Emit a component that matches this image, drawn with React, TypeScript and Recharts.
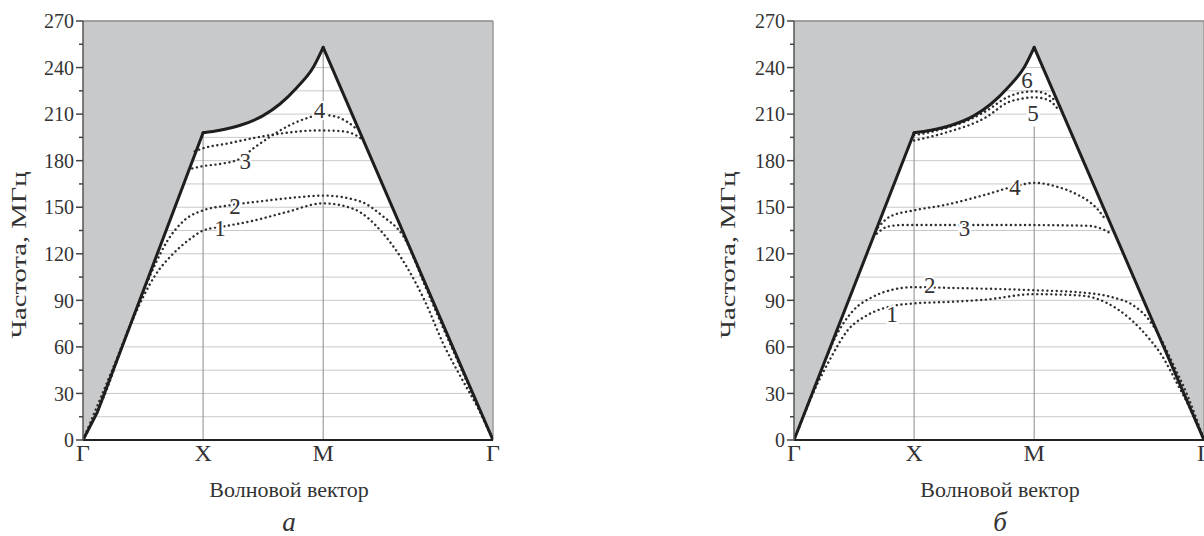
import React from 'react';
import {
  ComposedChart,
  Line,
  Area,
  XAxis,
  YAxis,
  CartesianGrid,
  ReferenceLine,
  ReferenceDot,
} from 'recharts';

type P = [number, number];

const FONT = '"Liberation Serif", "Times New Roman", serif';
const INK = '#333333';
const GRAY_FILL = '#c8c9cb';

// x positions of the symmetry points Γ, X, M, Γ
const xTickValues = [0, 1, 2, 3.414];
const xTickNames = ['Γ', 'X', 'M', 'Γ'];
const yTickValues = [0, 15, 30, 45, 60, 75, 90, 105, 120, 135, 150, 165, 180, 195, 210, 225, 240, 255, 270];
const Y_MAX = 270;

// boundary (thick line): Γ→X, X→M (curved), M→Γ
const boundaryA_GX: P[] = [[0, 0], [0.12, 18], [1, 198]];
const boundaryB_GX: P[] = [[0, 0], [1, 198]];
const boundaryXM: P[] = [
  [1, 198], [1.14, 199.6], [1.31, 202.8], [1.5, 209], [1.64, 216.5], [1.78, 227], [1.92, 240.5], [2, 253],
];
const boundaryMG: P[] = [[2, 253], [3.414, 0]];

// dotted branches, panel а
const a1: P[] = [
  [0, 0], [0.2, 33], [0.3, 55], [0.4, 75], [0.5, 92], [0.6, 106], [0.75, 120], [0.9, 130],
  [1.0, 135], [1.2, 138], [1.4, 141], [1.7, 147], [2.0, 152.5], [2.25, 149], [2.5, 133],
  [2.7, 111], [2.85, 89], [3.0, 62], [3.15, 40], [3.3, 19], [3.414, 0],
];
const a2: P[] = [
  [0, 0], [0.3, 56], [0.5, 95], [0.6, 113], [0.7, 128], [0.85, 142], [1.0, 148], [1.2, 151],
  [1.5, 154], [1.8, 156.5], [2.0, 157.5], [2.3, 154], [2.5, 144], [2.67, 131], [2.85, 99],
  [3.0, 72], [3.2, 37], [3.414, 0],
];
const a3: P[] = [
  [0.91, 175], [1.0, 176.5], [1.15, 178], [1.3, 181], [1.42, 188], [1.55, 195], [1.7, 202],
  [1.85, 207], [1.98, 209.5], [2.1, 208.5], [2.2, 205], [2.27, 201],
];
const a4: P[] = [
  [0.93, 186], [1.0, 188], [1.2, 191], [1.45, 195], [1.7, 198], [1.95, 199.5], [2.15, 199],
  [2.27, 196.5], [2.32, 194],
];

// dotted branches, panel б
const b1: P[] = [
  [0, 0], [0.2, 37], [0.3, 52], [0.45, 71], [0.6, 80], [0.8, 86], [1.0, 88], [1.3, 89],
  [1.6, 90.5], [2.0, 94], [2.4, 93], [2.6, 88.5], [2.8, 78], [2.95, 66], [3.05, 56],
  [3.2, 35], [3.3, 20], [3.414, 0],
];
const b2: P[] = [
  [0, 0], [0.2, 39], [0.35, 67], [0.5, 84], [0.65, 92], [0.8, 96.5], [1.0, 98.5], [1.3, 98],
  [1.6, 97.5], [2.0, 96.5], [2.4, 95], [2.65, 92], [2.82, 87], [2.95, 78], [3.05, 66],
  [3.15, 50], [3.28, 28], [3.414, 0],
];
const b3: P[] = [
  [0.69, 133], [0.78, 137.5], [0.9, 138.5], [1.5, 138.5], [2.0, 138.5], [2.45, 138],
  [2.58, 135.5], [2.64, 133],
];
const b4: P[] = [
  [0.7, 137], [0.8, 144], [1.0, 148], [1.26, 151.5], [1.59, 158], [1.84, 163.5], [2.0, 165.7],
  [2.2, 163], [2.35, 158.5], [2.46, 153.5], [2.53, 148.5], [2.59, 142.5],
];
const b5: P[] = [
  [1.0, 193], [1.26, 198], [1.6, 208], [1.78, 217.5], [1.9, 220], [2.0, 220.8], [2.12, 219],
  [2.2, 213],
];
const b6: P[] = [
  [1.0, 196.5], [1.1, 197.8], [1.26, 201], [1.45, 206], [1.6, 212], [1.78, 221], [1.9, 224],
  [2.0, 224.6], [2.1, 223], [2.17, 219],
];

type Lbl = { t: string; x: number; y: number };
const labelsA: Lbl[] = [
  { t: '1', x: 1.14, y: 136.5 },
  { t: '2', x: 1.265, y: 151 },
  { t: '3', x: 1.35, y: 180 },
  { t: '4', x: 1.97, y: 212.5 },
];
const labelsB: Lbl[] = [
  { t: '1', x: 0.815, y: 81.3 },
  { t: '2', x: 1.13, y: 99.6 },
  { t: '3', x: 1.42, y: 136.4 },
  { t: '4', x: 1.84, y: 163 },
  { t: '5', x: 1.99, y: 211 },
  { t: '6', x: 1.94, y: 232 },
];

const toObj = (arr: P[]) => arr.map(([x, y]) => ({ x, y }));
const toRange = (arr: P[]) => arr.map(([x, y]) => ({ x, r: [y, Y_MAX] }));

const YTick = (props: any) => {
  const { x, y, payload } = props;
  const v = payload.value as number;
  const major = v % 30 === 0;
  return (
    <g>
      <line x1={x - (major ? 7 : 4)} x2={x} y1={y} y2={y} stroke="#444" strokeWidth={1.5} />
      {major && (
        <text x={x - 9} y={y} dy="0.36em" textAnchor="end" fontFamily={FONT} fontSize={20} fill={INK}>
          {v}
        </text>
      )}
    </g>
  );
};

const LabelShape = (t: string) => (props: any) => {
  const { cx, cy } = props;
  return (
    <text
      x={cx}
      y={cy}
      dy="0.35em"
      textAnchor="middle"
      fontFamily={FONT}
      fontSize={23}
      fill={INK}
      stroke="#ffffff"
      strokeWidth={4}
      style={{ paintOrder: 'stroke' }}
    >
      {t}
    </text>
  );
};

type PanelProps = {
  width: number;
  marginRight: number;
  gx: P[];
  curves: P[][];
  labels: Lbl[];
  mTop: number;
};

const Panel = ({ width, marginRight, gx, curves, labels, mTop }: PanelProps) => {
  const segs: { d: P[]; t: 'linear' | 'monotone' }[] = [
    { d: gx, t: 'linear' },
    { d: boundaryXM, t: 'monotone' },
    { d: boundaryMG, t: 'linear' },
  ];
  // one outline for the grey region above the boundary
  const fullBoundary: P[] = [...gx, ...boundaryXM.slice(1), ...boundaryMG.slice(1)];
  return (
    <ComposedChart width={width} height={536} margin={{ top: 21, right: marginRight, bottom: 0, left: 0 }}>
      <CartesianGrid horizontal vertical={false} stroke="#c9c9c9" strokeWidth={1} fill="#ffffff" />
      <XAxis
        type="number"
        dataKey="x"
        domain={[0, 3.414]}
        ticks={xTickValues}
        interval={0}
        allowDataOverflow
        height={96}
        tickLine={false}
        tickSize={0}
        tickMargin={4}
        axisLine={{ stroke: '#222', strokeWidth: 2.2 }}
        tickFormatter={(v: number) => xTickNames[xTickValues.indexOf(v)] ?? ''}
        tick={{ fontFamily: FONT, fontSize: 24, fill: INK }}
      />
      <YAxis
        type="number"
        domain={[0, Y_MAX]}
        ticks={yTickValues}
        interval={0}
        allowDataOverflow
        width={83}
        tickLine={false}
        tickSize={0}
        tickMargin={0}
        axisLine={{ stroke: '#555', strokeWidth: 1.5 }}
        tick={YTick}
      />
      <Area
        data={toRange(fullBoundary)}
        dataKey="r"
        type="linear"
        stroke="none"
        fill={GRAY_FILL}
        fillOpacity={1}
        isAnimationActive={false}
        activeDot={false}
        dot={false}
      />
      <ReferenceLine segment={[{ x: 1, y: 0 }, { x: 1, y: 198 }]} stroke="#8c8c8c" strokeWidth={1} />
      <ReferenceLine segment={[{ x: 2, y: 0 }, { x: 2, y: mTop }]} stroke="#8c8c8c" strokeWidth={1} />
      <ReferenceLine y={Y_MAX} stroke="#8e8e8e" strokeWidth={1.5} />
      <ReferenceLine x={3.414} stroke="#9a9a9a" strokeWidth={1.5} />
      {curves.map((c, i) => (
        <Line
          key={i}
          data={toObj(c)}
          dataKey="y"
          type="monotone"
          stroke="#2e2e2e"
          strokeWidth={2.4}
          strokeDasharray="0.1 4.6"
          strokeLinecap="round"
          dot={false}
          activeDot={false}
          isAnimationActive={false}
        />
      ))}
      {segs.map((s, i) => (
        <Line
          key={'bd' + i}
          data={toObj(s.d)}
          dataKey="y"
          type={s.t}
          stroke="#1e1e1e"
          strokeWidth={3}
          strokeLinejoin="round"
          strokeLinecap="round"
          dot={false}
          activeDot={false}
          isAnimationActive={false}
        />
      ))}
      {labels.map((l, i) => (
        <ReferenceDot key={'l' + i} x={l.x} y={l.y} r={1} shape={LabelShape(l.t)} />
      ))}
    </ComposedChart>
  );
};

const textStyle: React.CSSProperties = {
  position: 'absolute',
  fontFamily: FONT,
  color: INK,
  whiteSpace: 'nowrap',
  transform: 'translate(-50%, -50%)',
  lineHeight: 1,
};

const yTitleTransform = 'translate(-50%, -50%) rotate(-90deg) scaleX(1.3)';

export default function App() {
  return (
    <div style={{ position: 'absolute', left: 0, top: 0, width: 1204, height: 536, background: '#fff', overflow: 'hidden' }}>
      <div style={{ position: 'absolute', left: 0, top: 0 }}>
        <Panel width={510} marginRight={17} gx={boundaryA_GX} curves={[a1, a2, a3, a4]} labels={labelsA} mTop={253} />
      </div>
      <div style={{ position: 'absolute', left: 711, top: 0 }}>
        <Panel width={493} marginRight={0} gx={boundaryB_GX} curves={[b1, b2, b3, b4, b5, b6]} labels={labelsB} mTop={202} />
      </div>
      <div style={{ ...textStyle, left: 19, top: 255, fontSize: 22, transform: yTitleTransform }}>
        Частота, МГц
      </div>
      <div style={{ ...textStyle, left: 728, top: 255, fontSize: 22, transform: yTitleTransform }}>
        Частота, МГц
      </div>
      <div style={{ ...textStyle, left: 289, top: 490, fontSize: 22 }}>Волновой вектор</div>
      <div style={{ ...textStyle, left: 1000, top: 490, fontSize: 22 }}>Волновой вектор</div>
      <div style={{ ...textStyle, left: 289, top: 522, fontSize: 27, fontStyle: 'italic' }}>а</div>
      <div style={{ ...textStyle, left: 1000, top: 522, fontSize: 27, fontStyle: 'italic' }}>б</div>
    </div>
  );
}
